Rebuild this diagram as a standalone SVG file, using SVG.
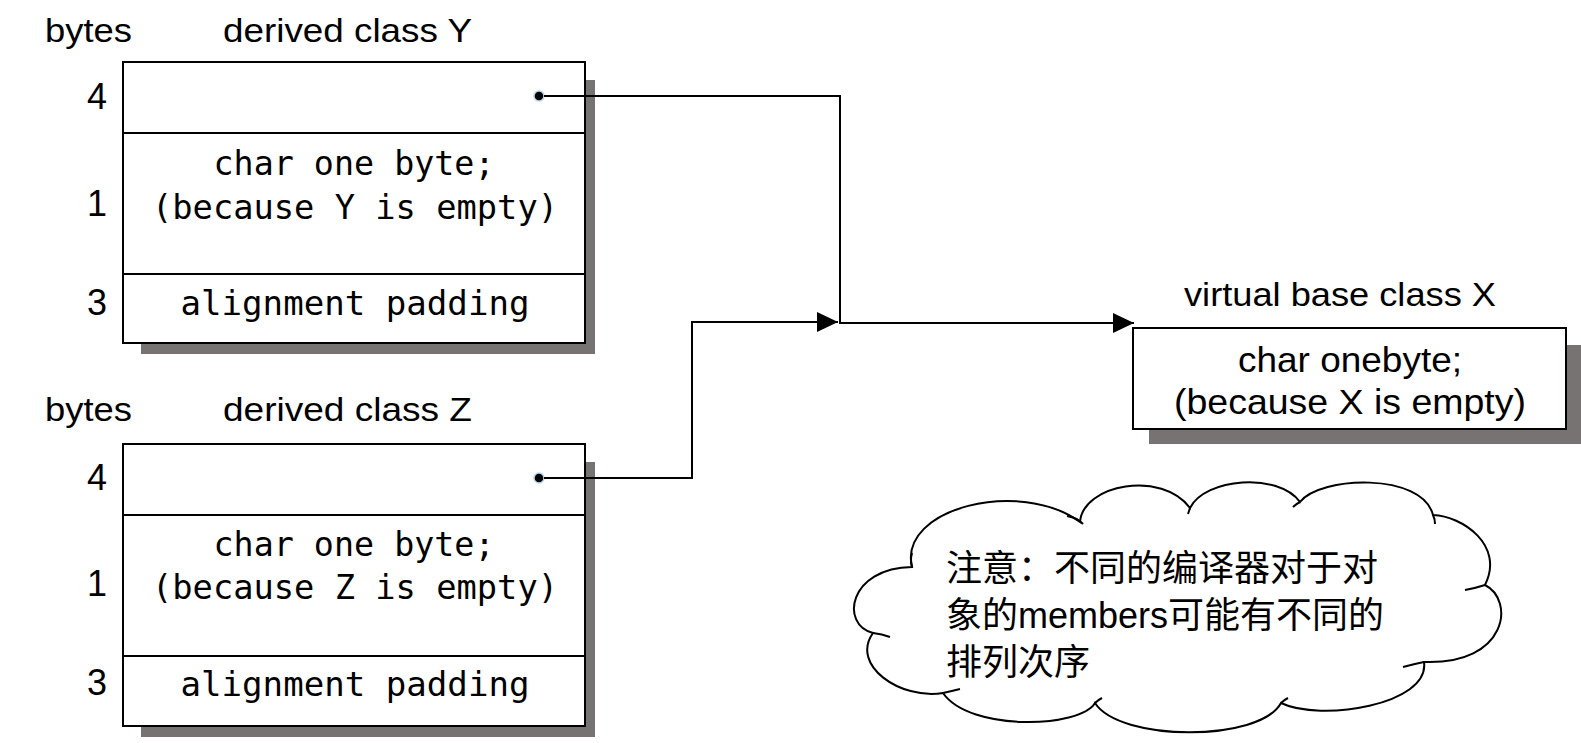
<svg xmlns="http://www.w3.org/2000/svg" width="1581" height="743" viewBox="0 0 1581 743">
<style>
.box{fill:#fff;stroke:#000;stroke-width:2}
.sh{fill:#787373}
.div{stroke:#000;stroke-width:2}
.hd{font-family:"Liberation Sans",Arial,sans-serif;font-size:33px;fill:#000}
.num{font-family:"Liberation Sans",Arial,sans-serif;font-size:36px;fill:#000;text-anchor:end}
.mono{font-family:"DejaVu Sans Mono","Liberation Mono",monospace;font-size:33px;fill:#000;text-anchor:middle}
.xt{font-family:"Liberation Sans",Arial,sans-serif;font-size:35px;fill:#000;text-anchor:middle}
.cj{font-family:"Liberation Sans","Noto Sans CJK SC",sans-serif;font-size:36px;fill:#000}
.con{fill:none;stroke:#000;stroke-width:2}
.dot{fill:#000;stroke:#b7d3ee;stroke-width:1.5}
.cloud{fill:#fff;stroke:#000;stroke-width:2}
.tail{fill:none;stroke:#000;stroke-width:2}
</style>
<defs>
<marker id="arr" markerUnits="userSpaceOnUse" markerWidth="22" markerHeight="22" refX="21" refY="10" orient="auto">
<path d="M0,0 L21,10 L0,20 Z" fill="#000"/>
</marker>
</defs>

<g id="classY">
<rect class="sh" x="141" y="80" width="454" height="274"/>
<rect class="box" x="123" y="62" width="462" height="281"/>
<line class="div" x1="123" y1="133" x2="585" y2="133"/>
<line class="div" x1="123" y1="274" x2="585" y2="274"/>
<text class="hd" x="45" y="42" textLength="87" lengthAdjust="spacingAndGlyphs">bytes</text>
<text class="hd" x="223" y="42" textLength="249" lengthAdjust="spacingAndGlyphs">derived class Y</text>
<text class="num" x="107" y="109">4</text>
<text class="num" x="107" y="216">1</text>
<text class="num" x="107" y="315">3</text>
<text class="mono" x="354" y="175" textLength="281" lengthAdjust="spacingAndGlyphs">char one byte;</text>
<text class="mono" x="355" y="219" textLength="406" lengthAdjust="spacingAndGlyphs">(because Y is empty)</text>
<text class="mono" x="355" y="315" textLength="349" lengthAdjust="spacingAndGlyphs">alignment padding</text>
<circle class="dot" cx="539" cy="96" r="5"/>
</g>

<g id="classZ">
<rect class="sh" x="141" y="462" width="454" height="275"/>
<rect class="box" x="123" y="444" width="462" height="282"/>
<line class="div" x1="123" y1="515" x2="585" y2="515"/>
<line class="div" x1="123" y1="656" x2="585" y2="656"/>
<text class="hd" x="45" y="421" textLength="87" lengthAdjust="spacingAndGlyphs">bytes</text>
<text class="hd" x="223" y="421" textLength="249" lengthAdjust="spacingAndGlyphs">derived class Z</text>
<text class="num" x="107" y="490">4</text>
<text class="num" x="107" y="596">1</text>
<text class="num" x="107" y="695">3</text>
<text class="mono" x="354" y="556" textLength="281" lengthAdjust="spacingAndGlyphs">char one byte;</text>
<text class="mono" x="355" y="599" textLength="406" lengthAdjust="spacingAndGlyphs">(because Z is empty)</text>
<text class="mono" x="355" y="696" textLength="349" lengthAdjust="spacingAndGlyphs">alignment padding</text>
<circle class="dot" cx="539" cy="478" r="5"/>
</g>

<g id="classX">
<rect class="sh" x="1149" y="345" width="440" height="99"/>
<rect class="box" x="1133" y="328" width="433" height="101"/>
<text class="hd" x="1340" y="306" text-anchor="middle" font-size="32" textLength="312" lengthAdjust="spacingAndGlyphs">virtual base class X</text>
<text class="xt" x="1350" y="372" textLength="224" lengthAdjust="spacingAndGlyphs">char onebyte;</text>
<text class="xt" x="1350" y="414" textLength="352" lengthAdjust="spacingAndGlyphs">(because X is empty)</text>
</g>

<g id="connectors">
<path class="con" d="M544,96 H840 V323 H1134" marker-end="url(#arr)"/>
<path class="con" d="M544,478 H692 V322 H838" marker-end="url(#arr)"/>
</g>

<g id="note">
<path class="cloud" d="M912,567 C898,508 1020,478 1080,522 C1083,484 1162,470 1190,508 C1205,478 1278,472 1300,502 C1320,476 1422,472 1433,515 C1462,516 1505,545 1485,585 C1515,600 1508,665 1424,662 C1430,705 1320,722 1281,703 C1260,742 1120,742 1095,703 C1080,728 970,732 943,693 C900,700 850,665 873,633 C840,625 848,568 912,567 Z"/>
<path class="tail" d="M912,567 Q910,560 912,553 M1067,516 Q1078,518 1083,524 M1190,508 Q1189,511 1188,514 M1300,502 Q1296,504 1293,507 M1433,515 Q1435,519 1435,524 M1485,585 Q1476,588 1465,590 M1424,662 Q1414,664 1403,667 M1281,703 Q1284,700 1288,698 M1095,703 Q1098,700 1102,698 M943,693 Q952,691 960,689 M873,633 Q882,634 890,637"/>
<text class="cj" x="946" y="581">注意：不同的编译器对于对</text>
<text class="cj" x="946" y="628">象的members可能有不同的</text>
<text class="cj" x="946" y="675">排列次序</text>
</g>
</svg>
